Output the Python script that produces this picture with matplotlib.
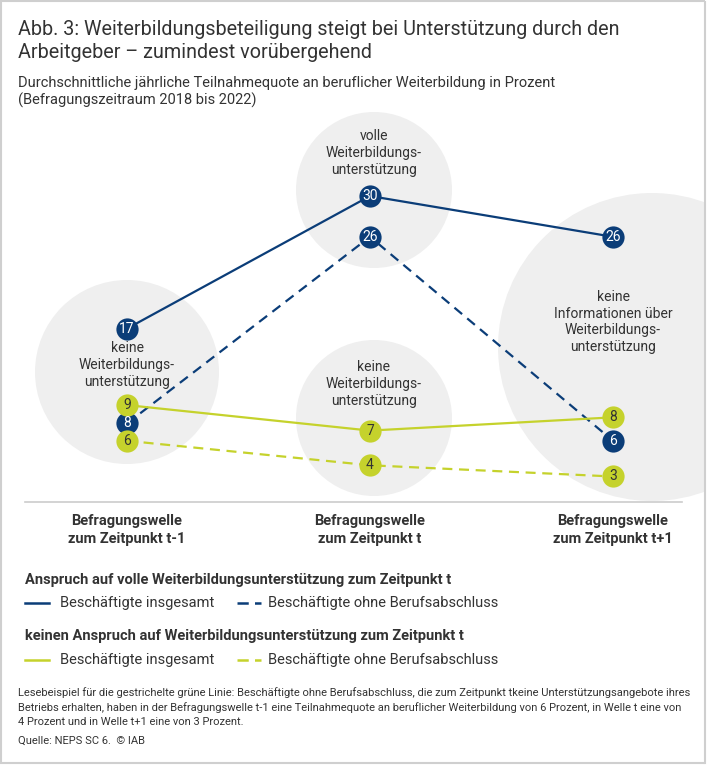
import matplotlib
matplotlib.use('Agg')
import matplotlib.pyplot as plt
from matplotlib import font_manager
from matplotlib.patches import Circle, Rectangle

# Daten (Teilnahmequote in Prozent) für die Wellen t-1, t, t+1
wellen = ['Befragungswelle\nzum Zeitpunkt t-1', 'Befragungswelle\nzum Zeitpunkt t',
          'Befragungswelle\nzum Zeitpunkt t+1']
voll_insgesamt = [17, 30, 26]
voll_ohne_abschluss = [8, 26, 6]
keine_insgesamt = [9, 7, 8]
keine_ohne_abschluss = [6, 4, 3]

NAVY = '#0b3d78'
GREEN = '#c5d22c'
GRAY = '#efefef'
TXT = '#333333'

names = {f.name for f in font_manager.fontManager.ttflist}
FONT = 'Liberation Sans Narrow' if 'Liberation Sans Narrow' in names else 'Roboto'
plt.rcParams['font.family'] = [FONT, 'DejaVu Sans']

W, H = 710, 765
fig = plt.figure(figsize=(W / 100, H / 100), dpi=100)

# Leinwand in Pixeln (y nach unten) für Kreise, Texte, Legende
canvas = fig.add_axes([0, 0, 1, 1])
canvas.set_xlim(0, W)
canvas.set_ylim(H, 0)
canvas.axis('off')

# Datenachse: x = Welle 0..2, y = Prozent
X0, DX, Y0, DY = 127, 243, 502, 10.2
ax = fig.add_axes([0, 0, 1, 1], facecolor='none')
ax.set_xlim(-X0 / DX, (W - X0) / DX)
ax.set_ylim((Y0 - H) / DY, Y0 / DY)
ax.axis('off')

canvas.add_patch(Rectangle((1, 1), W - 3, H - 3, facecolor='white',
                           edgecolor='#cfcfcf', lw=1.5, zorder=0))

# graue Hintergrundkreise
for cx, cy, r in [(127, 372, 92), (374, 190, 78), (374, 418, 78), (652, 347, 154)]:
    canvas.add_patch(Circle((cx, cy), r, facecolor=GRAY, edgecolor='none', zorder=1))
canvas.add_patch(Rectangle((W - 5, 0), 5, H, facecolor='white', edgecolor='none', zorder=1.5))
canvas.plot([W - 5, W - 5], [2, H - 2], color='#cfcfcf', lw=1.5, zorder=1.6)

def ctext(x, y, s):
    canvas.text(x, y, s, ha='center', va='center', color=TXT, fontsize=10,
                linespacing=1.25, zorder=2)

ctext(127, 365, 'keine\nWeiterbildungs-\nunterstützung')
ctext(374, 153, 'volle\nWeiterbildungs-\nunterstützung')
ctext(374, 384, 'keine\nWeiterbildungs-\nunterstützung')
ctext(613, 322, 'keine\nInformationen über\nWeiterbildungs-\nunterstützung')

# Grundlinie
canvas.plot([25, 682], [502, 502], color='#cccccc', lw=1.2, zorder=1.2)

# Linien und Punkte
xs = [0, 1, 2]
series = [
    (voll_insgesamt, NAVY, '-', 'white', [0, 0, 0]),
    (voll_ohne_abschluss, NAVY, (0, (4.5, 3)), 'white', [-0.3, 0, 0]),
    (keine_insgesamt, GREEN, '-', TXT, [0.5, 0, 0.3]),
    (keine_ohne_abschluss, GREEN, (0, (4.5, 3)), TXT, [0, -0.4, -0.5]),
]
for vals, col, ls, tc, nudge in series:
    ys = [v + n for v, n in zip(vals, nudge)]
    ax.plot(xs, ys, color=col, lw=1.6, linestyle=ls, zorder=3)
for vals, col, ls, tc, nudge in series:
    ys = [v + n for v, n in zip(vals, nudge)]
    ax.plot(xs, ys, linestyle='none', marker='o', ms=16, mfc=col, mec='none', zorder=4)
    for x, y, v in zip(xs, ys, vals):
        ax.text(x, y, str(v), ha='center', va='center', color=tc, fontsize=10, zorder=5)

# Achsenbeschriftung
for i, lab in enumerate(wellen):
    ax.text(i, (Y0 - 530) / DY, lab, ha='center', va='center', fontsize=10.5,
            fontweight='bold', color=TXT, linespacing=1.3)

# Titel
canvas.text(18, 41, 'Abb. 3: Weiterbildungsbeteiligung steigt bei Unterstützung durch den\n'
            'Arbeitgeber – zumindest vorübergehend', fontsize=14.2, color=TXT,
            va='center', ha='left', linespacing=1.3)
canvas.text(18, 92, 'Durchschnittliche jährliche Teilnahmequote an beruflicher Weiterbildung in Prozent\n'
            '(Befragungszeitraum 2018 bis 2022)', fontsize=10.5, color=TXT,
            va='center', ha='left', linespacing=1.3)

# Legende
def leg_row(y, col):
    canvas.plot([25, 49], [y, y], color=col, lw=1.8, zorder=2)
    canvas.plot([237, 261], [y, y], color=col, lw=1.8, linestyle=(0, (4.5, 2.5)), zorder=2)
    canvas.text(60, y, 'Beschäftigte insgesamt', fontsize=10.5, color=TXT, va='center')
    canvas.text(268, y, 'Beschäftigte ohne Berufsabschluss', fontsize=10.5, color=TXT, va='center')

canvas.text(25, 580, 'Anspruch auf volle Weiterbildungsunterstützung zum Zeitpunkt t',
            fontsize=10.5, fontweight='bold', color=TXT, va='center')
leg_row(603, NAVY)
canvas.text(25, 636, 'keinen Anspruch auf Weiterbildungsunterstützung zum Zeitpunkt t',
            fontsize=10.5, fontweight='bold', color=TXT, va='center')
leg_row(660, GREEN)

canvas.text(18, 707, 'Lesebeispiel für die gestrichelte grüne Linie: Beschäftigte ohne Berufsabschluss, '
            'die zum Zeitpunkt tkeine Unterstützungsangebote ihres\n'
            'Betriebs erhalten, haben in der Befragungswelle t-1 eine Teilnahmequote an beruflicher '
            'Weiterbildung von 6 Prozent, in Welle t eine von\n'
            '4 Prozent und in Welle t+1 eine von 3 Prozent.',
            fontsize=8, color=TXT, va='center', linespacing=1.45)
canvas.text(18, 741, 'Quelle: NEPS SC 6.  © IAB', fontsize=8, color=TXT, va='center')

fig.savefig('out.png', dpi=100, facecolor='white')
